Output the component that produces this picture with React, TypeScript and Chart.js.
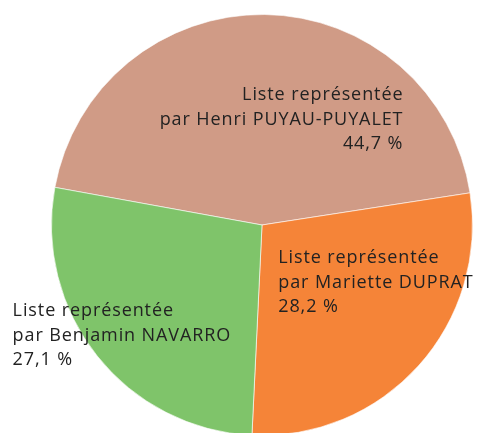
import React, { useEffect, useRef } from "react";
import { Chart, registerables } from "chart.js";

Chart.register(...registerables);

const categories = [
  ["Liste représentée", "par Henri PUYAU-PUYALET"],
  ["Liste représentée", "par Mariette DUPRAT"],
  ["Liste représentée", "par Benjamin NAVARRO"],
];
const values = [44.7, 28.2, 27.1];
const valueLabels = ["44,7 %", "28,2 %", "27,1 %"];
const colors = ["#D09B86", "#F58438", "#7FC46A"];

// label layout relative to slice centroid
const labelAlign: CanvasTextAlign[] = ["right", "left", "left"];
const labelDx = [140, -62, -167];
const labelDy = [0, -13, 45];

const FONT_FAMILY = "'Open Sans', sans-serif";
const FONT_SIZE = 18;
const LINE_H = 24.5;

const labelPlugin = {
  id: "sliceLabels",
  afterDatasetsDraw(chart: any) {
    const ctx = chart.ctx;
    const meta = chart.getDatasetMeta(0);
    ctx.save();
    ctx.font = `${FONT_SIZE}px ${FONT_FAMILY}`;
    (ctx as any).letterSpacing = "0.9px";
    ctx.fillStyle = "#222222";
    ctx.textBaseline = "middle";
    meta.data.forEach((arc: any, i: number) => {
      const p = arc.tooltipPosition();
      const lines = [...categories[i], valueLabels[i]];
      const x = p.x + labelDx[i];
      const yMid = p.y + labelDy[i];
      ctx.textAlign = labelAlign[i];
      lines.forEach((l, j) => {
        ctx.fillText(l, x, yMid + (j - 1) * LINE_H);
      });
    });
    ctx.restore();
  },
};

export default function App() {
  const ref = useRef<HTMLCanvasElement>(null);
  useEffect(() => {
    if (!ref.current) return;
    const chart = new Chart(ref.current, {
      type: "pie",
      data: {
        labels: categories.map((c) => c.join(" ")),
        datasets: [
          {
            data: values,
            backgroundColor: colors,
            borderColor: "rgba(255,255,255,0.6)",
            borderWidth: 1,
          },
        ],
      },
      options: {
        responsive: false,
        animation: false,
        rotation: 280.3,
        layout: { padding: { left: 51, top: 14, right: 5, bottom: 14 } },
        plugins: {
          legend: { display: false },
          tooltip: { enabled: false },
        },
      },
      plugins: [labelPlugin],
    });
    return () => chart.destroy();
  }, []);
  return (
    <div
      style={{
        position: "fixed",
        left: 0,
        top: 0,
        width: 478,
        height: 433,
        overflow: "hidden",
        background: "#fff",
      }}
    >
      <canvas ref={ref} width={478} height={450} style={{ display: "block" }} />
    </div>
  );
}
